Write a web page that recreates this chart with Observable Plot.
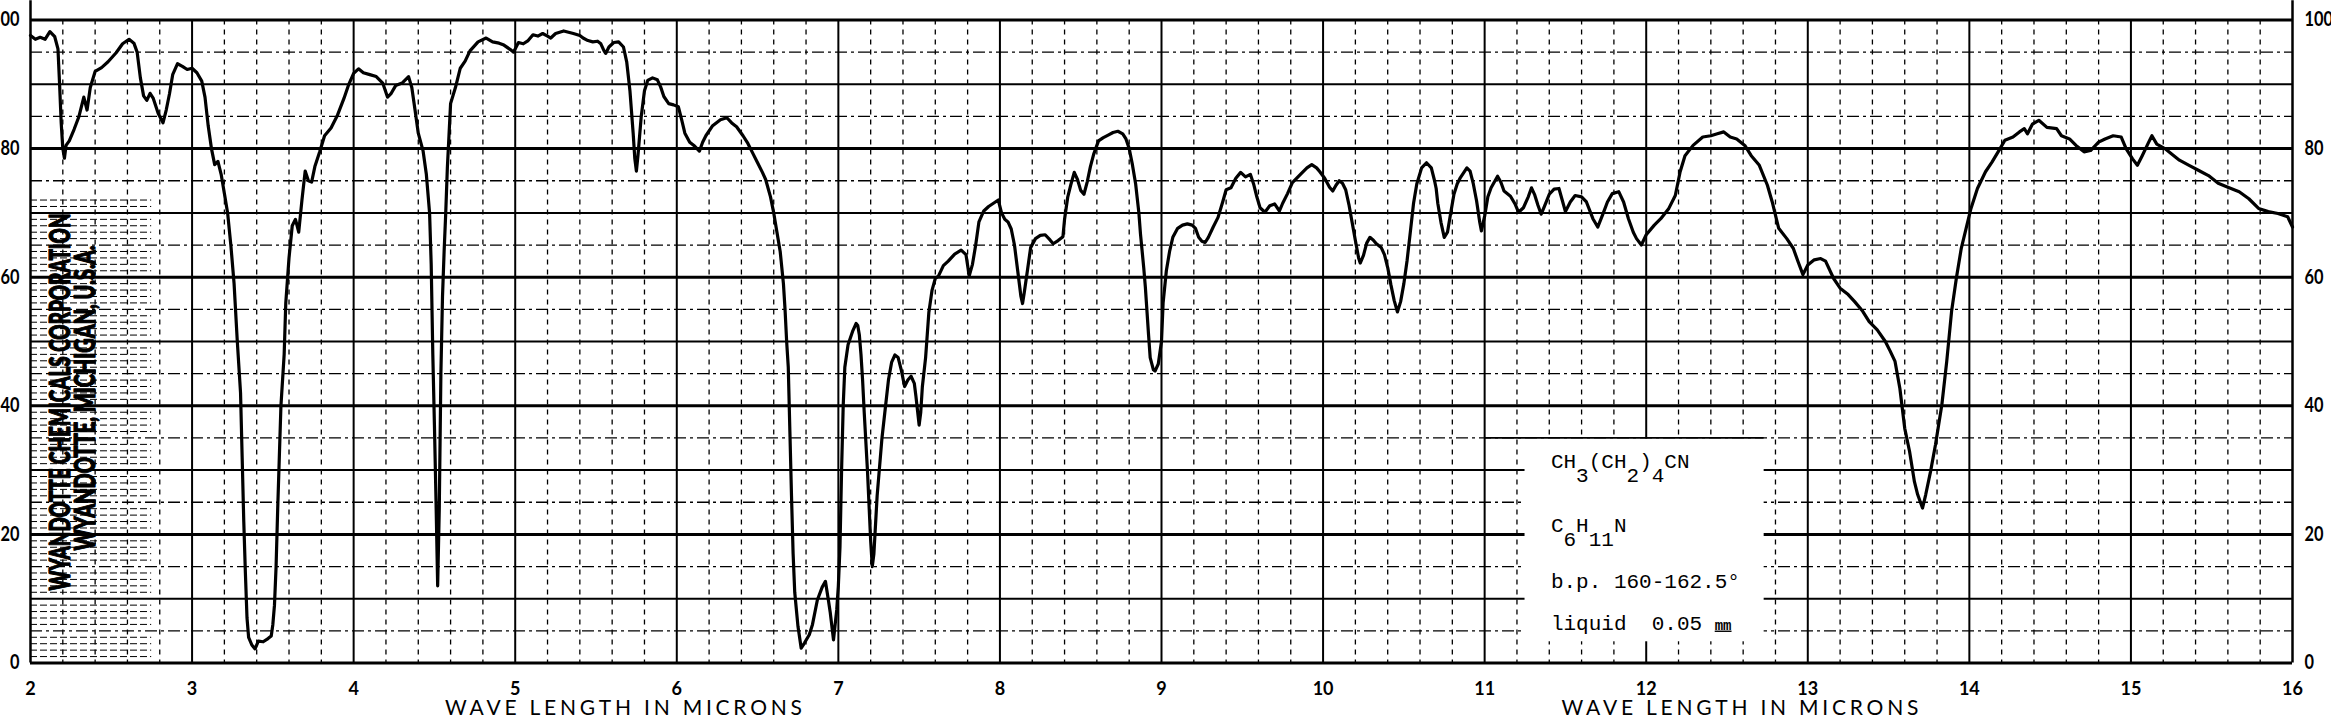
<!DOCTYPE html>
<html><head><meta charset="utf-8">
<script src="https://cdn.jsdelivr.net/npm/d3@7"></script>
<script src="https://cdn.jsdelivr.net/npm/@observablehq/plot@0.6"></script>
<style>
html,body{margin:0;padding:0;background:#fff;}
#chart{width:2331px;height:719px;overflow:hidden;}
</style></head><body><div id="chart"></div>
<script>
// ---- spectrum (wave length in microns, % transmittance) ----
const wavelength = [
2.00,2.03,2.06,2.09,2.12,2.15,2.17,2.18,2.19,2.20,
2.21,2.22,2.24,2.27,2.30,2.33,2.35,2.37,2.40,2.44,
2.48,2.53,2.57,2.61,2.64,2.66,2.68,2.70,2.72,2.74,
2.76,2.79,2.82,2.84,2.86,2.88,2.91,2.94,2.97,3.00,
3.03,3.06,3.08,3.10,3.12,3.14,3.16,3.18,3.20,3.22,
3.24,3.26,3.28,3.30,3.31,3.32,3.33,3.34,3.35,3.37,
3.39,3.41,3.44,3.47,3.49,3.50,3.51,3.52,3.53,3.54,
3.55,3.57,3.58,3.60,3.62,3.64,3.66,3.68,3.70,3.72,
3.74,3.76,3.79,3.82,3.86,3.90,3.94,3.97,4.00,4.03,
4.06,4.10,4.14,4.18,4.21,4.23,4.26,4.30,4.34,4.36,
4.38,4.40,4.43,4.45,4.47,4.48,4.49,4.50,4.51,4.52,
4.53,4.54,4.55,4.56,4.57,4.58,4.59,4.60,4.63,4.66,
4.69,4.72,4.77,4.82,4.86,4.90,4.93,4.97,4.99,5.02,
5.05,5.08,5.11,5.14,5.17,5.20,5.22,5.25,5.30,5.33,
5.36,5.40,5.42,5.45,5.48,5.51,5.53,5.55,5.56,5.58,
5.61,5.64,5.67,5.69,5.71,5.73,5.74,5.75,5.76,5.78,
5.80,5.82,5.85,5.88,5.90,5.92,5.95,5.98,6.01,6.03,
6.05,6.08,6.11,6.14,6.16,6.18,6.22,6.27,6.31,6.34,
6.37,6.41,6.44,6.47,6.50,6.53,6.55,6.58,6.60,6.62,
6.64,6.66,6.67,6.68,6.69,6.70,6.71,6.72,6.73,6.75,
6.77,6.79,6.82,6.84,6.87,6.90,6.92,6.94,6.95,6.97,
6.99,7.00,7.01,7.02,7.03,7.04,7.06,7.09,7.11,7.12,
7.13,7.14,7.15,7.16,7.18,7.20,7.21,7.22,7.24,7.27,
7.29,7.31,7.33,7.35,7.37,7.39,7.41,7.43,7.45,7.47,
7.48,7.50,7.51,7.52,7.54,7.56,7.58,7.60,7.62,7.65,
7.68,7.72,7.76,7.79,7.81,7.83,7.85,7.87,7.90,7.93,
7.96,7.99,8.01,8.03,8.05,8.07,8.09,8.11,8.13,8.14,
8.15,8.17,8.19,8.22,8.25,8.28,8.31,8.33,8.36,8.39,
8.40,8.42,8.44,8.46,8.48,8.50,8.52,8.54,8.56,8.58,
8.61,8.64,8.67,8.70,8.73,8.76,8.78,8.80,8.82,8.84,
8.86,8.87,8.89,8.90,8.92,8.93,8.95,8.96,8.98,9.00,
9.01,9.03,9.05,9.07,9.10,9.13,9.16,9.19,9.21,9.23,
9.25,9.27,9.29,9.32,9.35,9.38,9.40,9.43,9.46,9.49,
9.52,9.55,9.57,9.59,9.61,9.64,9.67,9.70,9.73,9.75,
9.78,9.81,9.86,9.90,9.93,9.96,9.98,10.01,10.04,10.06,
10.08,10.10,10.12,10.14,10.16,10.18,10.20,10.22,10.23,10.25,
10.27,10.29,10.31,10.33,10.36,10.38,10.40,10.42,10.44,10.46,
10.48,10.50,10.52,10.54,10.56,10.58,10.61,10.64,10.67,10.69,
10.70,10.71,10.73,10.75,10.77,10.79,10.81,10.83,10.85,10.89,
10.91,10.93,10.95,10.97,10.98,11.00,11.02,11.04,11.08,11.10,
11.12,11.16,11.19,11.21,11.24,11.27,11.29,11.31,11.33,11.35,
11.37,11.40,11.43,11.46,11.48,11.50,11.53,11.56,11.60,11.63,
11.67,11.70,11.73,11.76,11.79,11.83,11.86,11.89,11.92,11.94,
11.97,12.00,12.05,12.09,12.14,12.18,12.21,12.24,12.29,12.35,
12.40,12.44,12.48,12.52,12.56,12.61,12.65,12.70,12.75,12.78,
12.81,12.82,12.87,12.91,12.94,12.97,13.00,13.04,13.08,13.11,
13.16,13.20,13.25,13.29,13.34,13.38,13.43,13.48,13.51,13.54,
13.57,13.60,13.63,13.66,13.68,13.71,13.73,13.76,13.79,13.83,
13.86,13.89,13.92,13.95,13.98,14.01,14.05,14.10,14.14,14.19,
14.22,14.27,14.31,14.34,14.36,14.39,14.43,14.48,14.54,14.57,
14.62,14.66,14.71,14.75,14.80,14.84,14.89,14.94,14.97,15.01,
15.04,15.07,15.11,15.13,15.16,15.21,15.25,15.30,15.36,15.42,
15.48,15.54,15.60,15.67,15.73,15.79,15.85,15.91,15.97,16.00
];
const transmittance = [
97.6,97.0,97.3,97.0,98.2,97.4,95.5,90,84,80,
78.5,80.5,81.2,83,85,88,86,89.5,92,92.6,
93.5,94.9,96.3,97.0,96.4,95,91,88.2,87.5,88.6,
87.8,85.5,84.0,86,88.5,91.5,93.2,92.8,92.3,92.5,
91.8,90.5,88,83.5,80,77.5,78,76,73,70,
65,59,50,42,32,22,14,7,4,2.8,
2.2,3.4,3.3,3.8,4.2,6,9,15,24,32,
40,48,56,63,68,69,67,72,76.5,75,
74.8,77.2,79.5,82,83.2,85.2,87.8,90,91.7,92.4,
91.8,91.5,91.2,90.2,88,88.5,89.8,90.2,91.2,89.5,
86,82.4,79.6,76,70,62,48,37,25,12,
24,45,57,64,70,77,82,87,89.5,92.5,
93.6,95.2,96.6,97.2,96.6,96.4,96.1,95.4,95.0,96.5,
96.3,96.8,97.7,97.5,97.9,97.5,97.2,97.9,98.3,98.1,
97.9,97.6,97.2,96.8,96.6,96.7,96.3,95.2,94.8,95.8,
96.5,96.6,95.8,93.5,89,82.4,78.5,76.5,79,85,
89,90.6,91.0,90.7,89.6,88.1,87,86.8,86.5,84.5,
82.4,81,80.4,79.6,81,82,83.5,84.5,84.8,84,
83.4,82,80.8,79.3,77.8,76.3,75.2,72.5,70,67,
64,59,55,50,46,36,26,17,11,5.7,
2.3,3.1,4.4,6,9.8,11.8,12.7,9.5,7.8,3.6,
8.3,12,18,30,40,46,49.5,51.7,52.8,52.5,
51,48,44,39,30,19,15,17,26,35,
39.5,44,46.8,47.9,47.5,45.5,43,44,44.6,43.5,
41.5,37,39,43,47.5,54.5,58,59.8,60.2,61.8,
62.5,63.6,64.2,63.5,60.2,62,65,68.6,70.3,71,
71.5,72,70,69,68.6,67.5,65,61,57,55.9,
57.5,61,64.6,66,66.5,66.6,65.8,65.2,65.7,66.3,
69,72.5,74.5,76.3,75.2,73.5,72.9,74.8,77.2,79.1,
81.2,81.7,82.1,82.5,82.7,82.3,81.5,80,77.5,74.5,
70,66.7,61.5,58.5,51,47.5,45.6,45.4,46.5,50,
56,61,64,66.2,67.6,68.1,68.3,68.1,67.6,66.2,
65.6,65.4,66.2,67.8,69.3,71.8,73.6,73.9,75.4,76.3,
75.6,76,74.5,72.5,70.8,70.1,71.1,71.4,70.3,71.5,
73,74.7,76,77,77.5,77,76.4,75.4,74,73.4,
74.3,75,74.6,73.6,71.3,68.5,65.7,63,62.2,63.4,
65.3,66.2,65.8,65.2,64.6,63.5,61.5,58.8,56.4,54.6,
56.2,59,62.6,67,71.5,74.5,77,77.8,77,75,
73.8,71.5,68.5,66.2,67,70,72.9,74.5,75.5,77,
76.5,74.5,71.9,68.5,67.2,69.5,72.5,73.9,75.7,74.8,
73.4,72.6,71.3,70.1,70.8,72.5,73.9,72.8,71.2,69.8,
71,72.9,73.7,73.8,72,70.2,71.7,72.7,72.5,71.7,
69.1,67.8,69.7,71.7,73,73.3,71.7,69.1,67,66,
65,66.6,68.1,69.1,70.7,72.7,76.4,78.9,80.5,81.8,
82,82.3,82.6,81.8,81.5,80.5,78.9,77.4,74.3,71.7,
68.6,67.6,66,64.5,62.4,60.4,61.9,62.7,62.9,62.5,
59.8,58.3,57.3,56.2,54.7,53.1,51.8,50,48.5,46.9,
42.7,36.5,32.9,28.2,26.2,24.1,26.2,29.8,33.9,40.2,
46.9,54.7,59.9,64.5,67.6,70.7,73.8,76.4,77.9,80,
81.3,81.8,82.6,83.1,82.3,83.8,84.4,83.3,83.1,82,
81.5,80.5,79.5,79.7,81,81.5,82,81.8,80,78.4,
77.4,78.9,81,82,80.7,80,79.2,78.2,77.4,76.6,
75.8,74.6,74,73.3,72.2,70.7,70.2,69.9,69.4,67.8
];

// ---- axes / grid ----
const xTicks = [2,3,4,5,6,7,8,9,10,11,12,13,14,15,16];
const yTicks = [0,20,40,60,80,100];
const yTens = [10,30,50,70,90];
const yFives = [5,15,25,35,45,55,65,75,85,95];
const xFifths = d3.range(10, 80).map(i => i / 5).filter(v => v % 1 !== 0);
const hatchLevels = d3.range(1, 73).filter(v => v % 5 !== 0);
const axisTitle = "WAVE LENGTH IN MICRONS";
const axisTitleAt = [5.67, 12.58];

// ---- annotations ----
const stampLines = [
  {text: "WYANDOTTE CHEMICALS CORPORATION", x: 2.19, y: 40.6, len: 377},
  {text: "WYANDOTTE, MICHIGAN, U.S.A.", x: 2.345, y: 41.2, len: 305}
];
const sampleBox = [{x1: 11.25, x2: 12.73, y1: 3.3, y2: 34.8}];
const sampleLines = [
  {y: 30.25, parts: [["CH",0],["3",1],["(CH",0],["2",1],[")",0],["4",1],["CN",0]]},
  {y: 20.45, parts: [["C",0],["6",1],["H",0],["11",1],["N",0]]},
  {y: 11.74, parts: [["b.p. 160-162.5°",0]]},
  {y: 5.2, parts: [["liquid  0.05 ",0],["mm",2]]}
];
const sampleX = 11.41;

const spectrum = wavelength.map((w, i) => ({w, t: transmittance[i]}));
const sampleRows = sampleLines.map(d => ({y: d.y, text: d.parts.map(p => p[0]).join(""), parts: d.parts}));

const chart = Plot.plot({
  width: 2331, height: 719,
  marginLeft: 30, marginRight: 39, marginTop: 19.5, marginBottom: 56.5,
  x: {domain: [2, 16], label: null},
  y: {domain: [0, 100], label: null},
  style: {fontFamily: "Lato, sans-serif", background: "white", color: "black"},
  marks: [
    Plot.ruleY(hatchLevels, {x1: 2, x2: 2.75, stroke: "black", strokeWidth: 1, strokeDasharray: "7,3"}),
    Plot.ruleY(yFives, {stroke: "black", strokeWidth: 1.3, strokeDasharray: "12,4,3,4"}),
    Plot.ruleY(yTens, {stroke: "black", strokeWidth: 2}),
    Plot.ruleY(yTicks, {stroke: "black", strokeWidth: 3}),
    Plot.ruleX(xFifths, {stroke: "black", strokeWidth: 1.3, strokeDasharray: "5,5"}),
    Plot.ruleX(xTicks.slice(1, -1), {stroke: "black", strokeWidth: 2}),
    Plot.ruleX([2, 16], {y1: 0, y2: 103, stroke: "black", strokeWidth: 2.5}),
    Plot.rect(sampleBox, {x1: "x1", x2: "x2", y1: "y1", y2: "y2", fill: "white"}),
    Plot.ruleY([35], {x1: 11.0, x2: 12.73, stroke: "black", strokeWidth: 1.8}),
    Plot.line(spectrum, {x: "w", y: "t", stroke: "black", strokeWidth: 3.2, strokeLinejoin: "round"}),
    Plot.text(stampLines, {x: "x", y: "y", text: "text", rotate: -90, fontSize: 28, fontWeight: 900, fill: "black", stroke: "black", strokeWidth: 1.2, textAnchor: "middle"}),
    Plot.text(sampleRows, {x: sampleX, y: "y", text: "text", textAnchor: "start", lineAnchor: "bottom", fontSize: 21, fontFamily: "Liberation Mono, monospace", fill: "black"}),
    Plot.text(axisTitleAt, {x: d => d, y: -8.15, text: () => axisTitle, lineAnchor: "bottom", fontSize: 21, fill: "black"}),
    Plot.axisX(xTicks, {anchor: "bottom", tickSize: 0, tickPadding: 19, fontSize: 18, fontWeight: "bold", tickFormat: d => String(d), label: null}),
    Plot.axisY(yTicks, {anchor: "left", tickSize: 0, tickPadding: 11, fontSize: 20, fontWeight: "bold", tickFormat: d => String(d), label: null}),
    Plot.axisY(yTicks, {anchor: "right", tickSize: 0, tickPadding: 12, fontSize: 20, fontWeight: "bold", tickFormat: d => String(d), label: null})
  ]
});

// post-processing of text rendering details
const NS = "http://www.w3.org/2000/svg";
chart.querySelectorAll("text").forEach(el => {
  const s = el.textContent;
  const stamp = stampLines.find(d => d.text === s);
  if (stamp) {
    el.setAttribute("textLength", stamp.len);
    el.setAttribute("lengthAdjust", "spacingAndGlyphs");
  }
  if (s === axisTitle) {
    el.setAttribute("textLength", 357);
    el.setAttribute("lengthAdjust", "spacing");
  }
  const row = sampleRows.find(d => d.text === s);
  if (row) {
    el.textContent = "";
    el.style.whiteSpace = "pre";
    let shift = 0;
    row.parts.forEach(([txt, kind]) => {
      const ts = document.createElementNS(NS, "tspan");
      const target = kind === 1 ? 14 : 0;
      if (target !== shift) { ts.setAttribute("dy", target - shift); shift = target; }
      if (kind === 2) { ts.setAttribute("font-size", 14); ts.setAttribute("font-weight", "bold"); ts.setAttribute("text-decoration", "underline"); }
      ts.textContent = txt;
      el.appendChild(ts);
    });
  }
});
// narrow tick numbers on the left/right value axes
chart.querySelectorAll('g[aria-label="y-axis tick label"] text').forEach(el => {
  const n = el.textContent.length;
  el.setAttribute("textLength", n * 9.5);
  el.setAttribute("lengthAdjust", "spacingAndGlyphs");
});

document.getElementById("chart").appendChild(chart);
</script>
</body></html>
